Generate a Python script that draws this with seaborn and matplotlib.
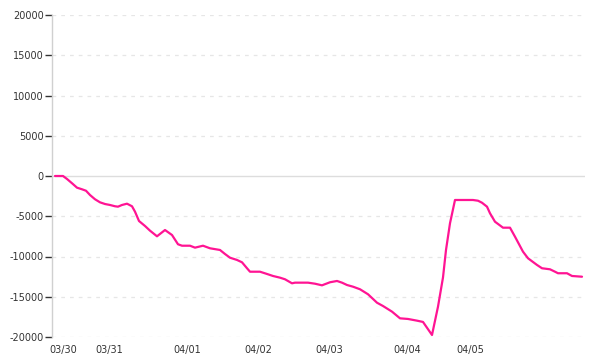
import matplotlib
matplotlib.use("Agg")
import matplotlib.pyplot as plt
import seaborn as sns
import pandas as pd

# time index (relative steps) and values
t = [0, 8, 12, 17, 22, 27, 31, 35, 40, 45, 50, 55, 60, 63, 67, 72, 77, 80, 84, 90,
     95, 102, 110, 117, 123, 127, 135, 140, 148, 155, 165, 170, 175, 182, 187, 192,
     195, 205, 212, 218, 225, 230, 237, 240, 253, 260, 267, 275, 282, 287, 292, 298,
     305, 313, 322, 328, 337, 345, 353, 362, 368, 377, 383, 388, 391, 395, 400, 418,
     423, 427, 432, 435, 440, 448, 455, 460, 468, 473, 482, 487, 495, 500, 503, 512,
     517, 527]
values = [0, 0, -370, -900, -1450, -1650, -1830, -2360, -2890, -3270, -3480, -3600,
          -3760, -3810, -3600, -3440, -3760, -4430, -5590, -6210, -6790, -7490, -6710,
          -7330, -8480, -8660, -8660, -8900, -8660, -8980, -9190, -9690, -10150, -10430,
          -10720, -11460, -11890, -11890, -12170, -12420, -12630, -12830, -13330, -13250,
          -13250, -13380, -13580, -13200, -13040, -13250, -13540, -13750, -14070, -14690,
          -15740, -16150, -16850, -17680, -17760, -17970, -18130, -19750, -16230, -12600,
          -9190, -5870, -2980, -2980, -3070, -3320, -3810, -4630, -5680, -6420, -6420,
          -7540, -9400, -10220, -11050, -11460, -11590, -11890, -12080, -12080, -12420,
          -12510]
tick_pos = [8, 54.5, 132, 203.5, 274.5, 352, 415]
tick_labels = ["03/30", "03/31", "04/01", "04/02", "04/03", "04/04", "04/05"]
y_ticks = [20000, 15000, 10000, 5000, 0, -5000, -10000, -15000, -20000]

df = pd.DataFrame({"t": t, "value": values})

sns.set_style("white")
plt.rcParams["axes.unicode_minus"] = False
plt.rcParams["font.family"] = ["DejaVu Sans"]

fig = plt.figure(figsize=(6, 3.6), dpi=100)
ax = fig.add_axes([52 / 600, 1 - 337 / 360, (585 - 52) / 600, (337 - 15) / 360])

for yv in y_ticks:
    if yv == 0:
        ax.axhline(yv, color="#dddddd", lw=1.0, zorder=1)
    else:
        ax.axhline(yv, color="#e6e6e6", lw=0.9, ls=(0, (3, 4)), zorder=1)

sns.lineplot(data=df, x="t", y="value", ax=ax, color="#ff1493", lw=1.6, zorder=3)

ax.set_xlim(-3, 530)
ax.set_ylim(-20000, 20000)
ax.set_yticks(y_ticks)
ax.set_yticklabels([str(v) for v in y_ticks])
ax.set_xticks(tick_pos)
ax.set_xticklabels(tick_labels)
ax.set_xlabel("")
ax.set_ylabel("")

for s in ["top", "right", "bottom"]:
    ax.spines[s].set_visible(False)
ax.spines["left"].set_color("#d0d0d0")
ax.spines["left"].set_linewidth(1.0)

ax.tick_params(axis="y", length=5, width=1, color="#333333", labelsize=7,
               labelcolor="#333333", pad=1, left=True)
ax.tick_params(axis="x", length=0, labelsize=7, labelcolor="#333333", pad=6)

fig.savefig("out.png", dpi=100, facecolor="white")
